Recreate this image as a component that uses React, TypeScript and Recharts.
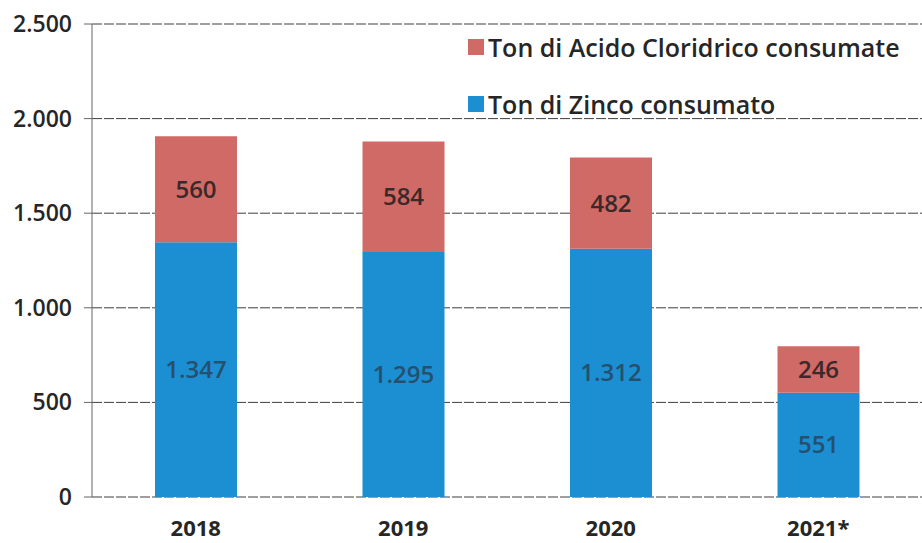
import React from "react";
import {
  BarChart,
  Bar,
  XAxis,
  YAxis,
  CartesianGrid,
  LabelList
} from "recharts";

const redColor = "#d06a66";
const blueColor = "#1b8fd2";
const textColor = "#262626";
const gridColor = "#3f3f3f";
const fontFamily = "'Open Sans', 'Noto Sans', sans-serif";

const years = ["2018", "2019", "2020", "2021*"];
const zinco = [1347, 1295, 1312, 551];
const acido = [560, 584, 482, 246];
const yTicks = [0, 500, 1000, 1500, 2000, 2500];

const keyZinco = "Ton di Zinco consumato";
const keyAcido = "Ton di Acido Cloridrico consumate";

const data = years.map((year, i) => ({
  year,
  [keyZinco]: zinco[i],
  [keyAcido]: acido[i]
}));

// 1347 -> "1.347"
const itFormat = (n: number) =>
  String(Math.round(n)).replace(/\B(?=(\d{3})+(?!\d))/g, ".");

function XTick(props: any) {
  const { x, y, payload } = props;
  return (
    <text
      x={x}
      y={y + 31}
      textAnchor="middle"
      fill={textColor}
      fontFamily={fontFamily}
      fontWeight={700}
      fontSize={22}
    >
      {payload.value}
    </text>
  );
}

function YTick(props: any) {
  const { y, payload } = props;
  return (
    <text
      x={72}
      y={y}
      dy={8}
      textAnchor="end"
      fill={textColor}
      fontFamily={fontFamily}
      fontWeight={600}
      fontSize={23}
    >
      {itFormat(payload.value)}
    </text>
  );
}

// legend drawn over the chart so it doesn't steal plot width
function LegendBox() {
  const items = [
    { label: keyAcido, color: redColor },
    { label: keyZinco, color: blueColor }
  ];
  return (
    <div
      style={{
        position: "absolute",
        left: 468,
        top: 18,
        fontFamily,
        fontWeight: 600,
        fontSize: 25,
        color: textColor
      }}
    >
      {items.map(item => (
        <div
          key={item.label}
          style={{ display: "flex", alignItems: "center", height: 57, whiteSpace: "nowrap" }}
        >
          <span
            style={{
              display: "inline-block",
              width: 16,
              height: 16,
              background: item.color,
              marginRight: 4
            }}
          />
          {item.label}
        </div>
      ))}
    </div>
  );
}

export default function App() {
  return (
    <div style={{ position: "absolute", left: 0, top: 0, width: 922, height: 543, background: "#fff" }}>
      <BarChart
        width={922}
        height={543}
        data={data}
        barSize={82}
        margin={{ top: 24, right: 0, left: 0, bottom: 0 }}
      >
        <CartesianGrid
          vertical={false}
          stroke={gridColor}
          strokeDasharray="10 2"
        />
        <XAxis
          dataKey="year"
          height={46}
          axisLine={false}
          tickLine={false}
          tick={<XTick />}
          interval={0}
        />
        <YAxis
          width={92}
          domain={[0, 2500]}
          ticks={yTicks}
          stroke="#666"
          tickSize={8}
          tick={<YTick />}
          interval={0}
        />
        <Bar
          isAnimationActive={false}
          dataKey={keyZinco}
          stackId="a"
          fill={blueColor}
        >
          <LabelList
            dataKey={keyZinco}
            position="center"
            formatter={(v: any) => itFormat(Number(v))}
            fill="#25506e"
            fontFamily={fontFamily}
            fontWeight={600}
            fontSize={24}
          />
        </Bar>
        <Bar
          isAnimationActive={false}
          dataKey={keyAcido}
          stackId="a"
          fill={redColor}
        >
          <LabelList
            dataKey={keyAcido}
            position="center"
            formatter={(v: any) => itFormat(Number(v))}
            fill="#3a2929"
            fontFamily={fontFamily}
            fontWeight={600}
            fontSize={24}
          />
        </Bar>
      </BarChart>
      <LegendBox />
    </div>
  );
}
